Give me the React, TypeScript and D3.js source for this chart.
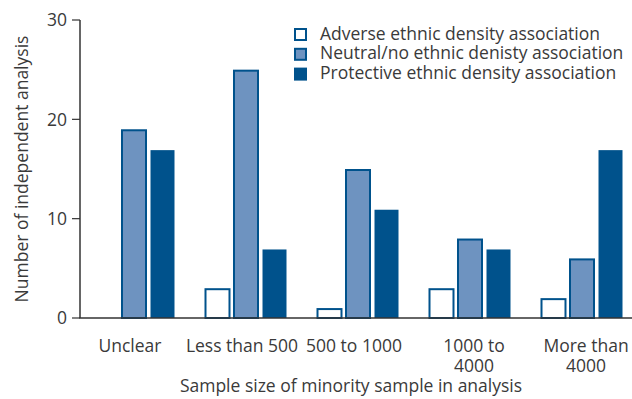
import React from "react";
import * as d3 from "d3";

const categories: string[][] = [
  ["Unclear"],
  ["Less than 500"],
  ["500 to 1000"],
  ["1000 to", "4000"],
  ["More than", "4000"],
];
const seriesNames = [
  "Adverse ethnic density association",
  "Neutral/no ethnic denisty association",
  "Protective ethnic density association",
];
const adverse = [0, 3, 1, 3, 2];
const neutral = [19, 25, 15, 8, 6];
const protective = [17, 7, 11, 7, 17];
const yTicks = [0, 10, 20, 30];

const W = 632;
const H = 399;
const FONT = "'Open Sans', 'DejaVu Sans', sans-serif";
const TEXT = "#3a3a3a";
const DARK = "#00528c";
const MID = "#6e93c0";
const FS = 17.5;

export default function App() {
  const keys = categories.map((c) => c.join(" "));
  const x0 = d3.scaleBand<string>().domain(keys).range([78, 638]).paddingInner(0);
  const bw = x0.bandwidth();
  const x1 = d3
    .scaleBand<number>()
    .domain([0, 1, 2])
    .range([bw / 2 - 41.5, bw / 2 + 41.5])
    .paddingInner(0.088);
  const y = d3.scaleLinear().domain([0, 30]).range([318, 20]);
  const series = [adverse, neutral, protective];
  const fills = ["#ffffff", MID, DARK];

  return (
    <svg
      width={W}
      height={H}
      style={{ position: "absolute", left: 0, top: 0 }}
      fontFamily={FONT}
    >
      <rect width={W} height={H} fill="#fff" />
      {series.map((vals, si) =>
        vals.map((v, ci) => {
          if (v <= 0) return null;
          const bx = (x0(keys[ci]) as number) + (x1(si) as number);
          const top = y(v);
          const h = y(0) - top;
          return (
            <rect
              key={`${si}-${ci}`}
              x={bx + 1}
              y={top + 1}
              width={x1.bandwidth() - 2}
              height={h - 1}
              fill={fills[si]}
              stroke={DARK}
              strokeWidth={si === 2 ? 0 : 2}
            />
          );
        })
      )}
      <line x1={80} x2={80} y1={y(30)} y2={y(0)} stroke="#333" strokeWidth={1.5} />
      <line x1={79.25} x2={632} y1={y(0)} y2={y(0)} stroke="#333" strokeWidth={1.5} />
      {yTicks.map((t) => (
        <g key={t}>
          <line x1={72} x2={80} y1={y(t)} y2={y(t)} stroke="#333" strokeWidth={1.2} />
          <text x={67} y={y(t)} dy="0.36em" textAnchor="end" fontSize={FS} fill={TEXT}>
            {t}
          </text>
        </g>
      ))}
      {categories.map((lines, ci) =>
        lines.map((l, li) => (
          <text
            key={`${ci}-${li}`}
            x={(x0(keys[ci]) as number) + bw / 2 + (lines.length > 1 ? 4 : -4)}
            y={352 + li * 19.5}
            textAnchor="middle"
            fontSize={FS}
            fill={TEXT}
          >
            {l}
          </text>
        ))
      )}
      <text x={351} y={392} textAnchor="middle" fontSize={FS} fill={TEXT}>
        Sample size of minority sample in analysis
      </text>
      <text
        transform={`translate(28,${(y(0) + y(30)) / 2}) rotate(-90)`}
        textAnchor="middle"
        fontSize={FS}
        fill={TEXT}
      >
        Number of independent analysis
      </text>
      {seriesNames.map((name, i) => (
        <g key={name} transform={`translate(294,${28 + i * 19.8})`}>
          <rect
            x={1}
            y={1}
            width={11}
            height={11}
            fill={fills[i]}
            stroke={DARK}
            strokeWidth={i === 2 ? 0 : 2}
          />
          {i === 2 && <rect x={0} y={0} width={13} height={13} fill={DARK} />}
          <text x={26} y={11.5} fontSize={FS} fill={TEXT}>
            {name}
          </text>
        </g>
      ))}
    </svg>
  );
}
